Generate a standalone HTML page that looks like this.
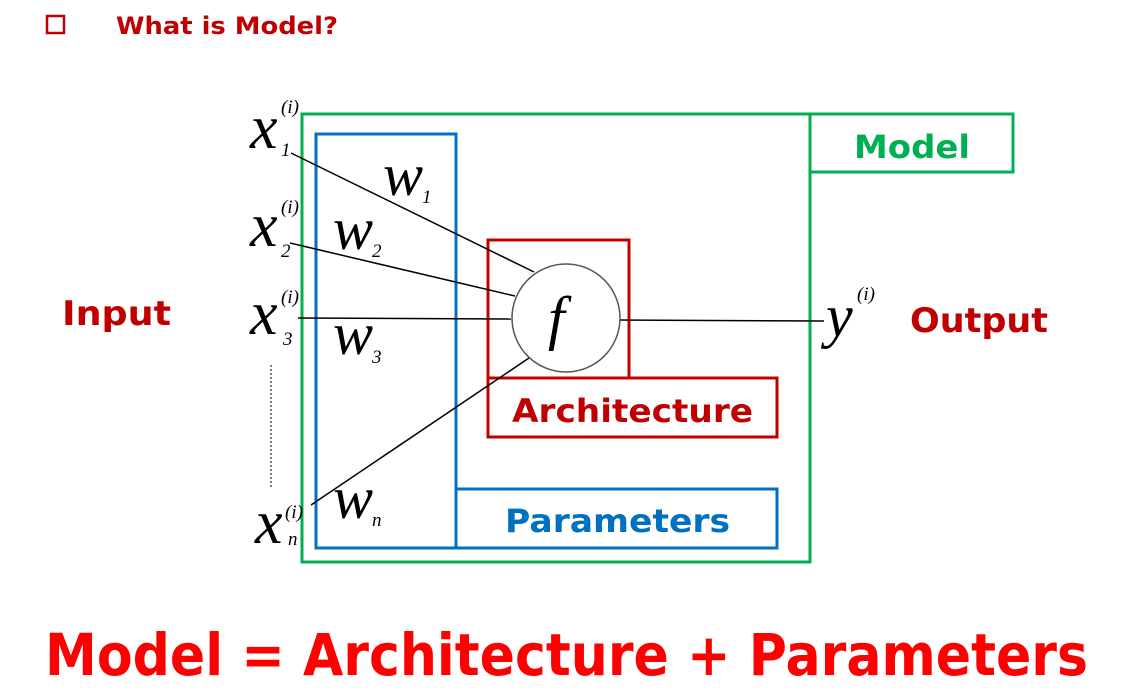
<!DOCTYPE html>
<html><head><meta charset="utf-8"><style>
html,body{margin:0;padding:0;background:#fff;}
svg{display:block;}
.b{font-family:"DejaVu Sans","Liberation Sans",sans-serif;font-weight:bold;}
.m{font-family:"Liberation Serif",serif;font-style:italic;fill:#000;}
</style></head><body>
<svg width="1124" height="697" viewBox="0 0 1124 697">
<rect x="47" y="16" width="17" height="17" fill="none" stroke="#c00000" stroke-width="2.5"/>
<text class="b" x="116" y="34" font-size="24" fill="#c00000" textLength="222" lengthAdjust="spacingAndGlyphs">What is Model?</text>

<rect x="302" y="114" width="508" height="448" fill="none" stroke="#00b050" stroke-width="3"/>
<rect x="810" y="114" width="203" height="58" fill="none" stroke="#00b050" stroke-width="3"/>
<text class="b" x="854" y="158" font-size="32" fill="#00b050" textLength="116" lengthAdjust="spacingAndGlyphs">Model</text>

<rect x="316" y="134" width="140" height="414" fill="none" stroke="#0070c0" stroke-width="3"/>
<rect x="456" y="489" width="321" height="59" fill="none" stroke="#0070c0" stroke-width="3"/>
<text class="b" x="505" y="532" font-size="32" fill="#0070c0" textLength="225" lengthAdjust="spacingAndGlyphs">Parameters</text>

<rect x="488" y="240" width="141" height="138" fill="none" stroke="#c00000" stroke-width="3"/>
<rect x="488" y="378" width="289" height="59" fill="none" stroke="#c00000" stroke-width="3"/>
<text class="b" x="512" y="422" font-size="32" fill="#c00000" textLength="241" lengthAdjust="spacingAndGlyphs">Architecture</text>

<g stroke="#000" stroke-width="1.5" fill="none">
<line x1="291" y1="153" x2="534" y2="272"/>
<line x1="290" y1="243" x2="515" y2="296"/>
<line x1="298" y1="318" x2="511" y2="319"/>
<line x1="311" y1="505" x2="529" y2="358"/>
<line x1="620" y1="320" x2="824" y2="321"/>
<line x1="271" y1="365" x2="271" y2="487" stroke-dasharray="2,2" stroke-width="1"/>
</g>
<circle cx="566" cy="318" r="54" fill="#fff" stroke="#555" stroke-width="1.5"/>
<text class="m" x="548" y="338" font-size="60">f</text>

<g class="m">
<text x="250" y="148" font-size="62">x</text>
<text x="281" y="113" font-size="19">(i)</text><text x="281" y="156" font-size="19">1</text>
<text x="250" y="246" font-size="62">x</text>
<text x="281" y="213" font-size="19">(i)</text><text x="281" y="257" font-size="19">2</text>
<text x="250" y="334" font-size="62">x</text>
<text x="281" y="303" font-size="19">(i)</text><text x="283" y="345" font-size="19">3</text>
<text x="255" y="543" font-size="62">x</text>
<text x="285" y="518" font-size="19">(i)</text><text x="288" y="545" font-size="19">n</text>
<text x="383" y="195" font-size="60">w</text><text x="422" y="203" font-size="19">1</text>
<text x="333" y="249" font-size="60">w</text><text x="372" y="257" font-size="19">2</text>
<text x="333" y="354" font-size="60">w</text><text x="372" y="363" font-size="19">3</text>
<text x="333" y="518" font-size="60">w</text><text x="372" y="526" font-size="19">n</text>
<text x="826" y="336" font-size="60">y</text><text x="857" y="300" font-size="19">(i)</text>
</g>

<text class="b" x="62" y="325" font-size="34" fill="#c00000" textLength="109" lengthAdjust="spacingAndGlyphs">Input</text>
<text class="b" x="910" y="332" font-size="34" fill="#c00000" textLength="138" lengthAdjust="spacingAndGlyphs">Output</text>

<text class="b" x="45" y="675" font-size="58" fill="#ff0000" textLength="1043" lengthAdjust="spacingAndGlyphs">Model = Architecture + Parameters</text>
</svg>
</body></html>
